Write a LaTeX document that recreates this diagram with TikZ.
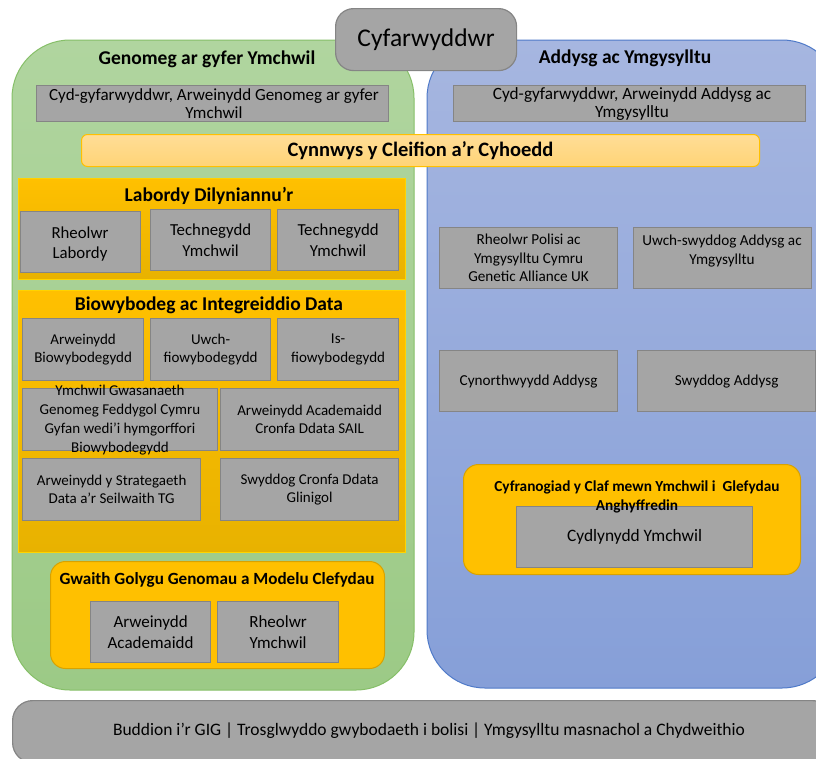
\documentclass[tikz,border=0pt]{standalone}
\usepackage{fontspec}
\setmainfont{Carlito}
\newcommand{\fsz}[1]{\fontsize{#1pt}{\dimexpr #1pt*122/100\relax}\selectfont}
\definecolor{grayfill}{HTML}{A5A5A5}
\definecolor{grayline}{HTML}{858585}
\definecolor{greentop}{HTML}{B0D59F}
\definecolor{greenbot}{HTML}{9CCA86}
\definecolor{greenline}{HTML}{86BF68}
\definecolor{bluetop}{HTML}{A6B6E0}
\definecolor{bluebot}{HTML}{869FD8}
\definecolor{blueline}{HTML}{4F7AC8}
\definecolor{orange}{HTML}{FFC000}
\definecolor{orangebot}{HTML}{E8B200}
\definecolor{orangeline}{HTML}{D8A200}
\definecolor{paletop}{HTML}{FFDD96}
\definecolor{palebot}{HTML}{FFD477}
\tikzset{
  gbox/.style={draw=grayline, line width=1.2pt, fill=grayfill, anchor=north west, inner sep=1pt, align=center, font=\fsz{15}},
  tlabel/.style={font=\bfseries\fsz{19.5}, align=center, inner sep=0pt},
  plain/.style={font=\fsz{15}, align=center, inner sep=0pt}
}
\begin{document}
\begin{tikzpicture}[x=1pt,y=-1pt]
\useasboundingbox (0,0) rectangle (816,758);
% big panels
\path[draw=greenline, line width=1pt, top color=greentop, bottom color=greenbot, rounded corners=58pt] (12,40) rectangle (414,690);
\path[draw=blueline, line width=1pt, top color=bluetop, bottom color=bluebot, rounded corners=58pt] (427,40) rectangle (840,688);
% director
\node[draw=grayline, line width=1.2pt, fill=grayfill, rounded corners=18pt, minimum width=181pt, minimum height=62pt, anchor=north west, font=\fsz{25.5}] (dir) at (335,8) {Cyfarwyddwr};
% panel titles
\node[tlabel] (gtitle) at (207,59) {Genomeg ar gyfer Ymchwil};
\node[tlabel] (atitle) at (625,58) {Addysg ac Ymgysylltu};
% co-directors
\node[gbox, minimum width=352pt, minimum height=36pt] (cog) at (36,85) {};
\node[plain, font=\fsz{17}] at (214,104) {Cyd-gyfarwyddwr, Arweinydd Genomeg ar gyfer\\[-3pt]Ymchwil};
\node[gbox, minimum width=352pt, minimum height=36pt] (coa) at (453,85) {};
\node[plain, font=\fsz{17.2}] at (632,104) {Cyd-gyfarwyddwr, Arweinydd Addysg ac\\[-3pt]Ymgysylltu};
% patient & public
\node[draw=orange, line width=1pt, top color=paletop, bottom color=palebot, rounded corners=6pt, minimum width=678pt, minimum height=32pt, anchor=north west, inner sep=0pt] (ppi) at (81,134) {};
\node[tlabel, font=\bfseries\fsz{20.5}] at (ppi.center) {Cynnwys y Cleifion a’r Cyhoedd};
% Labordy
\node[draw=orange!70!yellow, line width=1pt, top color=orange, bottom color=orangebot, minimum width=387pt, minimum height=101pt, anchor=north west, inner sep=0pt] (lab) at (18,178) {};
\node[tlabel] (labt) at (209,196) {Labordy Dilyniannu’r};
\node[gbox, minimum width=120pt, minimum height=61pt] (rl) at (20,211) {};
\node[plain, font=\fsz{16.8}] at (80,244) {Rheolwr\\Labordy};
\node[gbox, minimum width=120pt, minimum height=61pt, font=\fsz{16.8}] (t1) at (150,209) {Technegydd\\Ymchwil};
\node[gbox, minimum width=121pt, minimum height=61pt, font=\fsz{16.8}] (t2) at (277,209) {Technegydd\\Ymchwil};
% Biowybodeg
\node[draw=orange!70!yellow, line width=1pt, top color=orange, bottom color=orangebot, minimum width=387pt, minimum height=262pt, anchor=north west, inner sep=0pt] (bio) at (18,290) {};
\node[tlabel] (biot) at (209,305) {Biowybodeg ac Integreiddio Data};
\node[gbox, minimum width=121pt, minimum height=62pt] (ab) at (22,318) {Arweinydd\\Biowybodegydd};
\node[gbox, minimum width=120pt, minimum height=62pt] (ub) at (150,318) {Uwch-\\fiowybodegydd};
\node[gbox, minimum width=121pt, minimum height=62pt] (ib) at (277,318) {Is-\\fiowybodegydd};
\node[gbox, minimum width=195pt, minimum height=62pt] (yg) at (22,388) {};
\node[plain, font=\fsz{15}] at (120,420) {Ymchwil Gwasanaeth\\[0.6pt]Genomeg Feddygol Cymru\\[0.6pt]Gyfan wedi’i hymgorffori\\[0.6pt]Biowybodegydd};
\node[gbox, minimum width=178pt, minimum height=62pt] (sail) at (220,388) {Arweinydd Academaidd\\Cronfa Ddata SAIL};
\node[gbox, minimum width=178pt, minimum height=62pt] (strat) at (22,458) {Arweinydd y Strategaeth\\Data a’r Seilwaith TG};
\node[gbox, minimum width=178pt, minimum height=62pt] (clin) at (220,458) {Swyddog Cronfa Ddata\\Glinigol};
% Gwaith Golygu
\node[draw=orangeline, line width=1pt, fill=orange, rounded corners=15pt, minimum width=334pt, minimum height=107pt, anchor=north west, inner sep=0pt] (gg) at (50,561) {};
\node[tlabel, font=\bfseries\fsz{17.1}] (ggt) at (217,580) {Gwaith Golygu Genomau a Modelu Clefydau};
\node[gbox, minimum width=120pt, minimum height=61pt, font=\fsz{17}] (aa) at (90,601) {Arweinydd\\Academaidd};
\node[gbox, minimum width=121pt, minimum height=61pt, font=\fsz{17}] (ry) at (217,601) {Rheolwr\\Ymchwil};
% right side
\node[gbox, minimum width=178pt, minimum height=61pt, font=\fsz{15.2}] (pol) at (439,227) {Rheolwr Polisi ac\\Ymgysylltu Cymru\\Genetic Alliance UK};
\node[gbox, minimum width=178pt, minimum height=61pt] (uwch) at (633,227) {};
\node[plain, font=\fsz{15.2}] at (722,251) {Uwch-swyddog Addysg ac\\Ymgysylltu};
\node[gbox, minimum width=178pt, minimum height=61pt, font=\fsz{15.2}] (cyn) at (439,350) {Cynorthwyydd Addysg};
\node[gbox, minimum width=178pt, minimum height=61pt, font=\fsz{15.2}] (swy) at (637,350) {Swyddog Addysg};
% Cyfranogiad
\node[draw=orangeline, line width=1pt, fill=orange, rounded corners=15pt, minimum width=337pt, minimum height=110pt, anchor=north west, inner sep=0pt] (cyf) at (463,464) {};
\node[gbox, minimum width=236pt, minimum height=61pt, font=\fsz{17.4}] (cyd) at (516,506) {Cydlynydd Ymchwil};
\node[tlabel, font=\bfseries\fsz{15.3}] (cyft) at (637,497) {Cyfranogiad y Claf mewn Ymchwil i\ \ Glefydau\\Anghyffredin};
% bottom bar
\node[draw=grayline, line width=1.2pt, fill=grayfill, rounded corners=20pt, minimum width=820pt, minimum height=62pt, anchor=north west, inner sep=0pt] (bar) at (12,700) {};
\node[plain, font=\fsz{17.5}] at (429,731) {Buddion i'r GIG | Trosglwyddo gwybodaeth i bolisi | Ymgysylltu masnachol a Chydweithio};
\end{tikzpicture}
\end{document}
